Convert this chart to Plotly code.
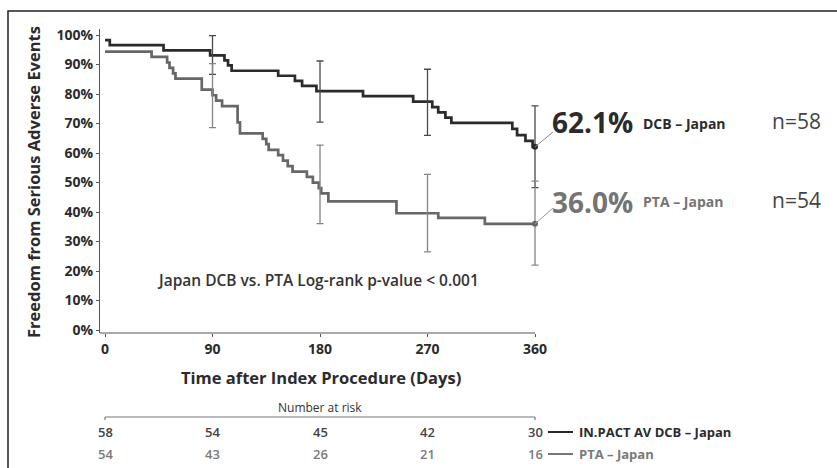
import plotly.graph_objects as go

# ---------------- data ----------------
dcb_days = [0, 4, 49, 88, 100, 103, 106, 145, 159, 165, 177, 216, 258, 274, 279, 285, 290, 341, 345, 352, 358, 360]
dcb_surv = [98.3, 96.6, 94.8, 93.1, 91.4, 89.7, 87.9, 86.2, 84.5, 82.8, 81.0, 79.3, 77.4, 75.6, 73.8, 72.0, 70.2, 68.2, 66.1, 64.1, 62.1, 62.1]

pta_days = [0, 39, 52, 54, 57, 59, 81, 90, 93, 98, 111, 113, 132, 135, 137, 145, 149, 153, 157, 169, 174, 179, 181, 187, 244, 279, 318, 360]
pta_surv = [94.4, 92.6, 90.7, 88.9, 87.0, 85.2, 81.5, 79.6, 77.8, 75.9, 70.4, 66.7, 64.8, 63.0, 61.1, 59.3, 57.4, 55.6, 53.7, 51.9, 50.0, 48.1, 46.3, 43.6, 39.6, 38.0, 36.0, 36.0]

ci_days = [90, 180, 270, 360]
dcb_est = [93.1, 81.0, 75.6, 62.1]
dcb_upper = [99.8, 91.2, 88.4, 76.0]
dcb_lower = [86.7, 70.5, 66.0, 48.3]
pta_est = [79.6, 46.3, 39.6, 36.0]
pta_upper = [90.3, 62.7, 52.8, 50.5]
pta_lower = [68.6, 36.1, 26.5, 22.0]

risk_days = [0, 90, 180, 270, 360]
dcb_at_risk = [58, 54, 45, 42, 30]
pta_at_risk = [54, 43, 26, 21, 16]

x_ticks = [0, 90, 180, 270, 360]
y_ticks = [0, 10, 20, 30, 40, 50, 60, 70, 80, 90, 100]
y_ticktext = [f"{v}%" for v in y_ticks]

dcb_final = "62.1%"
pta_final = "36.0%"
dcb_n = "n=58"
pta_n = "n=54"

# ---------------- layout constants ----------------
W, H = 837, 468
L, R, T, B = 100, 288, 29, 135
PW = W - L - R
PH = H - T - B
X0 = -4.2
KX = 435 / 364.2
X1 = X0 + PW / KX
Y0 = -1.0
KY = 2.95
Y1 = Y0 + PH / KY

DARK = "#2b2b2b"
FONT = "Open Sans"


def pxx(p):
    return (p - L) / PW


def pxy(p):
    return (H - B - p) / PH


def dx(d):
    return (d - X0) / (X1 - X0)


def dy(v):
    return (v - Y0) / (Y1 - Y0)


fig = go.Figure()

fig.add_trace(go.Scatter(x=dcb_days, y=dcb_surv, mode="lines", line=dict(shape="hv", color=DARK, width=2.7),
                         showlegend=False, hoverinfo="skip"))
fig.add_trace(go.Scatter(x=pta_days, y=pta_surv, mode="lines", line=dict(shape="hv", color="#676767", width=2.7),
                         showlegend=False, hoverinfo="skip"))

fig.add_trace(go.Scatter(
    x=ci_days, y=dcb_est, mode="markers", marker=dict(size=1, color="rgba(0,0,0,0)"),
    error_y=dict(type="data", array=[u - e for u, e in zip(dcb_upper, dcb_est)],
                 arrayminus=[e - l for e, l in zip(dcb_est, dcb_lower)],
                 color="#4a4a4a", thickness=1.3, width=3.5),
    showlegend=False, hoverinfo="skip", cliponaxis=False))
fig.add_trace(go.Scatter(
    x=ci_days, y=pta_est, mode="markers", marker=dict(size=1, color="rgba(0,0,0,0)"),
    error_y=dict(type="data", array=[u - e for u, e in zip(pta_upper, pta_est)],
                 arrayminus=[e - l for e, l in zip(pta_est, pta_lower)],
                 color="#858585", thickness=1.3, width=3.5),
    showlegend=False, hoverinfo="skip", cliponaxis=False))

fig.add_trace(go.Scatter(x=[dcb_days[-1]], y=[dcb_surv[-1]], mode="markers",
                         marker=dict(size=6, color=DARK), showlegend=False, hoverinfo="skip", cliponaxis=False))
fig.add_trace(go.Scatter(x=[pta_days[-1]], y=[pta_surv[-1]], mode="markers",
                         marker=dict(size=6, color="#676767"), showlegend=False, hoverinfo="skip", cliponaxis=False))

shapes = []
# outer frame
shapes.append(dict(type="rect", xref="paper", yref="paper", x0=pxx(8), x1=pxx(900), y0=pxy(520), y1=pxy(11),
                   line=dict(color="#222", width=1.5), fillcolor="rgba(0,0,0,0)"))
# x axis line
shapes.append(dict(type="line", xref="paper", yref="paper", x0=0, x1=dx(360), y0=0, y1=0,
                   line=dict(color="#555", width=1.2)))
# leader lines
shapes.append(dict(type="line", xref="paper", yref="paper", x0=dx(dcb_days[-1]), y0=dy(dcb_surv[-1]),
                   x1=pxx(553), y1=pxy(132), line=dict(color="#888", width=1)))
shapes.append(dict(type="line", xref="paper", yref="paper", x0=dx(pta_days[-1]), y0=dy(pta_surv[-1]),
                   x1=pxx(553), y1=pxy(208), line=dict(color="#999", width=1)))
# number at risk bracket line
shapes.append(dict(type="line", xref="paper", yref="paper", x0=dx(risk_days[0]), x1=dx(risk_days[-1]),
                   y0=pxy(417), y1=pxy(417), line=dict(color="#777", width=1.2)))
for d in (risk_days[0], risk_days[-1]):
    shapes.append(dict(type="line", xref="paper", yref="paper", x0=dx(d), x1=dx(d),
                       y0=pxy(417), y1=pxy(420), line=dict(color="#777", width=1.2)))
# legend line segments
shapes.append(dict(type="line", xref="paper", yref="paper", x0=pxx(548), x1=pxx(573), y0=pxy(432), y1=pxy(432),
                   line=dict(color=DARK, width=2)))
shapes.append(dict(type="line", xref="paper", yref="paper", x0=pxx(548), x1=pxx(573), y0=pxy(454), y1=pxy(454),
                   line=dict(color="#777", width=2)))

ann = []


def A(text, x, y, size, color, weight="normal", xanchor="center", yanchor="middle", angle=0):
    ann.append(dict(text=text, x=x, y=y, xref="paper", yref="paper", showarrow=False,
                    xanchor=xanchor, yanchor=yanchor, textangle=angle, borderpad=0,
                    font=dict(family=FONT, size=size, color=color, weight=weight)))


A("Freedom from Serious Adverse Events", pxx(33), pxy(182), 16.5, DARK, "bold", angle=-90)
A("Time after Index Procedure (Days)", pxx(321), pxy(377), 16.5, DARK, "bold")
A("Japan DCB vs. PTA Log-rank p-value &lt; 0.001", pxx(318), pxy(280), 15.5, "#333", 600)

A(dcb_final, pxx(551), pxy(122.5), 28, DARK, "bold", xanchor="left")
A("DCB – Japan", pxx(642), pxy(123), 14, DARK, "bold", xanchor="left")
A(dcb_n, pxx(771), pxy(121), 21, "#444", xanchor="left")
A(pta_final, pxx(551), pxy(202), 28, "#747474", "bold", xanchor="left")
A("PTA – Japan", pxx(642), pxy(201), 14, "#747474", "bold", xanchor="left")
A(pta_n, pxx(771), pxy(199.5), 21, "#444", xanchor="left")

A("Number at risk", dx(180), pxy(407), 12, "#333")
for d, n in zip(risk_days, dcb_at_risk):
    A(str(n), dx(d), pxy(432), 13, "#444", 600)
for d, n in zip(risk_days, pta_at_risk):
    A(str(n), dx(d), pxy(454), 13, "#7a7a7a", 600)
A("IN.PACT AV DCB – Japan", pxx(578), pxy(432), 13, DARK, "bold", xanchor="left")
A("PTA – Japan", pxx(578), pxy(454), 13, "#7a7a7a", "bold", xanchor="left")

fig.update_layout(
    width=W, height=H,
    margin=dict(l=L, r=R, t=T, b=B, autoexpand=False),
    paper_bgcolor="white", plot_bgcolor="white",
    shapes=shapes, annotations=ann,
    xaxis=dict(range=[X0, X1], showgrid=False, zeroline=False, showline=False,
               tickvals=x_ticks, ticks="outside", ticklen=3, tickcolor="#555", tickwidth=1,
               tickfont=dict(family=FONT, size=14, color=DARK, weight="bold")),
    yaxis=dict(range=[Y0, Y1], showgrid=False, zeroline=False, showline=True, linecolor="#555", linewidth=1.2,
               tickvals=y_ticks, ticktext=y_ticktext, ticks="outside", ticklen=3, tickcolor="#555", tickwidth=1,
               tickfont=dict(family=FONT, size=14, color=DARK, weight="bold")),
)

fig.write_html("out.html", config={"displayModeBar": False},
               post_script="document.body.style.margin='0';document.body.style.overflow='hidden';")
